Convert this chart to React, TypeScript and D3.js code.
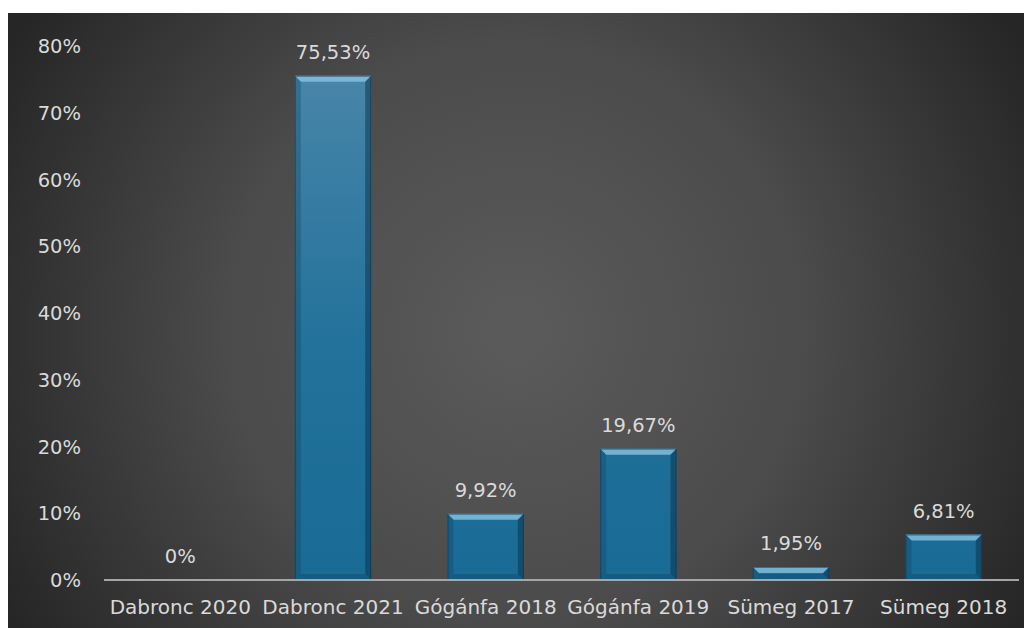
import { useRef, useEffect } from 'react'
import * as d3 from 'd3'

const categories = ['Dabronc 2020', 'Dabronc 2021', 'Gógánfa 2018', 'Gógánfa 2019', 'Sümeg 2017', 'Sümeg 2018']
const values = [0, 75.53, 9.92, 19.67, 1.95, 6.81]
const valueLabels = ['0%', '75,53%', '9,92%', '19,67%', '1,95%', '6,81%']
const yTicks = [0, 10, 20, 30, 40, 50, 60, 70, 80]

export default function App() {
  const ref = useRef<SVGSVGElement>(null)

  useEffect(() => {
    if (!ref.current) return
    const svg = d3.select(ref.current)
    svg.selectAll('*').remove()

    const W = 1024
    const H = 628
    const font = '"DejaVu Sans ExtraLight", "DejaVu Sans", sans-serif'
    const textColor = '#dadada'

    const x = d3.scaleBand<string>().domain(categories).range([104, 1020]).paddingInner(0.5).paddingOuter(0.25)
    const y = d3.scaleLinear().domain([0, 80]).range([580, 46])

    const defs = svg.append('defs')
    const bg = defs
      .append('radialGradient')
      .attr('id', 'bg')
      .attr('gradientUnits', 'userSpaceOnUse')
      .attr('cx', 516)
      .attr('cy', 330)
      .attr('r', 580)
    bg.append('stop').attr('offset', '0%').attr('stop-color', '#5b5b5b')
    bg.append('stop').attr('offset', '50%').attr('stop-color', '#4b4b4b')
    bg.append('stop').attr('offset', '100%').attr('stop-color', '#262626')

    // bar fill shared across the plot height
    const barGrad = defs
      .append('linearGradient')
      .attr('id', 'bar')
      .attr('gradientUnits', 'userSpaceOnUse')
      .attr('x1', 0).attr('y1', y(80)).attr('x2', 0).attr('y2', y(0))
    barGrad.append('stop').attr('offset', '0%').attr('stop-color', '#4c87aa')
    barGrad.append('stop').attr('offset', '55%').attr('stop-color', '#23729b')
    barGrad.append('stop').attr('offset', '100%').attr('stop-color', '#196b95')

    svg.append('rect').attr('x', 8).attr('y', 13).attr('width', W - 8).attr('height', H - 13).attr('fill', 'url(#bg)')

    // y tick labels
    svg
      .append('g')
      .selectAll('text')
      .data(yTicks)
      .join('text')
      .attr('x', 81)
      .attr('y', (d) => y(d))
      .attr('dy', '0.36em')
      .attr('text-anchor', 'end')
      .attr('font-family', font)
      .attr('font-size', 19.5)
      .attr('fill', textColor)
      .text((d) => `${d}%`)

    // bars
    const bw = x.bandwidth()
    const bev = 6
    categories.forEach((c, i) => {
      const v = values[i]
      if (v <= 0) return
      const x0 = x(c) as number
      const x1 = x0 + bw
      const y0 = y(v)
      const y1 = y(0)
      const h = y1 - y0
      const b = Math.min(bev, h / 2)
      const g = svg.append('g')
      g.append('rect').attr('x', x0).attr('y', y0).attr('width', bw).attr('height', h).attr('fill', 'url(#bar)')
      // top bevel
      g.append('polygon')
        .attr('points', `${x0},${y0} ${x1},${y0} ${x1 - b},${y0 + b} ${x0 + b},${y0 + b}`)
        .attr('fill', '#8ac3e2')
        .attr('opacity', 0.8)
      // left bevel
      g.append('polygon')
        .attr('points', `${x0},${y0} ${x0 + b},${y0 + b} ${x0 + b},${y1 - b} ${x0},${y1}`)
        .attr('fill', '#0e3f5a')
        .attr('opacity', 0.3)
      // right bevel
      g.append('polygon')
        .attr('points', `${x1},${y0} ${x1 - b},${y0 + b} ${x1 - b},${y1 - b} ${x1},${y1}`)
        .attr('fill', '#0a3048')
        .attr('opacity', 0.5)
      // bottom bevel
      g.append('polygon')
        .attr('points', `${x0},${y1} ${x0 + b},${y1 - b} ${x1 - b},${y1 - b} ${x1},${y1}`)
        .attr('fill', '#0c4766')
        .attr('opacity', 0.4)
      // dark outline
      g.append('rect')
        .attr('x', x0 + 0.5).attr('y', y0 + 0.5).attr('width', bw - 1).attr('height', h - 1)
        .attr('fill', 'none').attr('stroke', '#0b2e44').attr('stroke-opacity', 0.5).attr('stroke-width', 1)
    })

    // axis line
    svg
      .append('line')
      .attr('x1', 104)
      .attr('x2', 1019)
      .attr('y1', y(0))
      .attr('y2', y(0))
      .attr('stroke', '#a6a6a6')
      .attr('stroke-width', 2)

    // value labels
    svg
      .append('g')
      .selectAll('text')
      .data(categories)
      .join('text')
      .attr('x', (c) => (x(c) as number) + bw / 2)
      .attr('y', (_c, i) => y(values[i]) - 24)
      .attr('dy', '0.36em')
      .attr('text-anchor', 'middle')
      .attr('font-family', font)
      .attr('font-size', 19.5)
      .attr('fill', textColor)
      .text((_c, i) => valueLabels[i])

    // category labels
    svg
      .append('g')
      .selectAll('text')
      .data(categories)
      .join('text')
      .attr('x', (c) => (x(c) as number) + bw / 2)
      .attr('y', 607)
      .attr('dy', '0.36em')
      .attr('text-anchor', 'middle')
      .attr('font-family', font)
      .attr('font-size', 20)
      .attr('fill', textColor)
      .text((c) => c)
  }, [])

  return (
    <svg
      ref={ref}
      width={1024}
      height={628}
      style={{ position: 'absolute', left: 0, top: 0, display: 'block' }}
    />
  )
}
